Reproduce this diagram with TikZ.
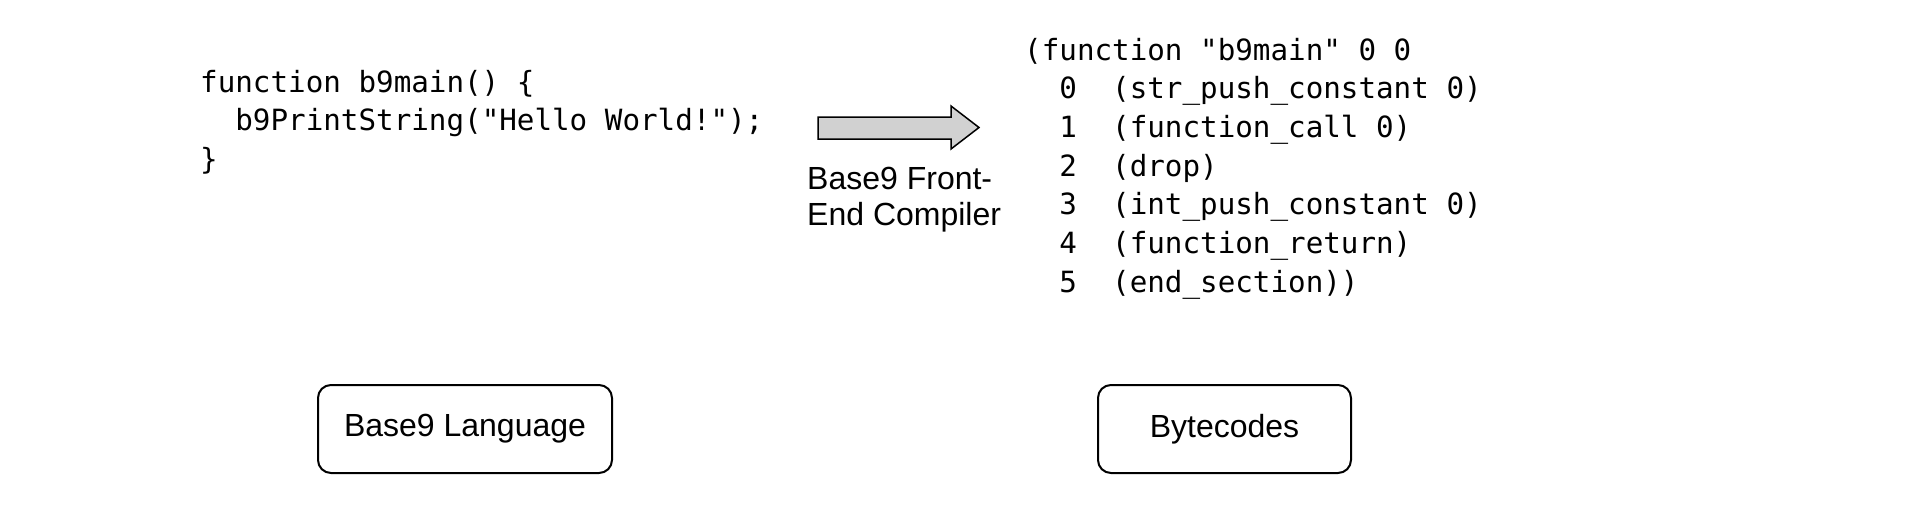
\documentclass[tikz,border=0pt]{standalone}
\usepackage{fontspec}
\setmainfont{Liberation Sans}
\newfontfamily\codefont{DejaVu Sans Mono}
\begin{document}
\begin{tikzpicture}[x=1pt,y=-1pt,
  code/.style={anchor=base west,inner sep=0pt,font=\codefont\fontsize{29.23}{35}\selectfont},
  label/.style={anchor=base west,inner sep=0pt,font=\fontsize{32}{37}\selectfont},
  roundbox/.style={draw=black,line width=2pt,rounded corners=13pt,fill=white},
  boxtext/.style={inner sep=0pt,font=\fontsize{32}{37}\selectfont}
]
\useasboundingbox (0,0) rectangle (1928,514);
% left code
\node[code] (c1) at (200,92) {function b9main() \{};
\node[code] (c2) at (235.2,130.7) {b9PrintString("Hello World!");};
\node[code] (c3) at (200,169.4) {\}};
% bytecodes
\node[code] (b0) at (1024,60) {(function "b9main" 0 0};
\node[code] (b1) at (1059.2,98.7) {0~~(str\_push\_constant 0)};
\node[code] (b2) at (1059.2,137.4) {1~~(function\_call 0)};
\node[code] (b3) at (1059.2,176.1) {2~~(drop)};
\node[code] (b4) at (1059.2,214.8) {3~~(int\_push\_constant 0)};
\node[code] (b5) at (1059.2,253.5) {4~~(function\_return)};
\node[code] (b6) at (1059.2,292.2) {5~~(end\_section))};
% block arrow
\coordinate (ta) at (818,117);
\draw[fill=black!18,line width=1.5pt,line join=miter]
  (818,117) -- (951,117) -- (951,106) -- (979,127.5) -- (951,149) -- (951,139) -- (818,139) -- cycle;
\node[label] (l1) at (807,189) {Base9 Front-};
\node[label] (l2) at (807,225) {End Compiler};
% boxes
\draw[roundbox] (318,385) rectangle (612,473);
\node[boxtext] (lang) at (465,429) {Base9 Language};
\draw[roundbox] (1098,385) rectangle (1351,473);
\node[boxtext] (bc) at (1224.5,429) {Bytecodes};
\end{tikzpicture}
\end{document}
